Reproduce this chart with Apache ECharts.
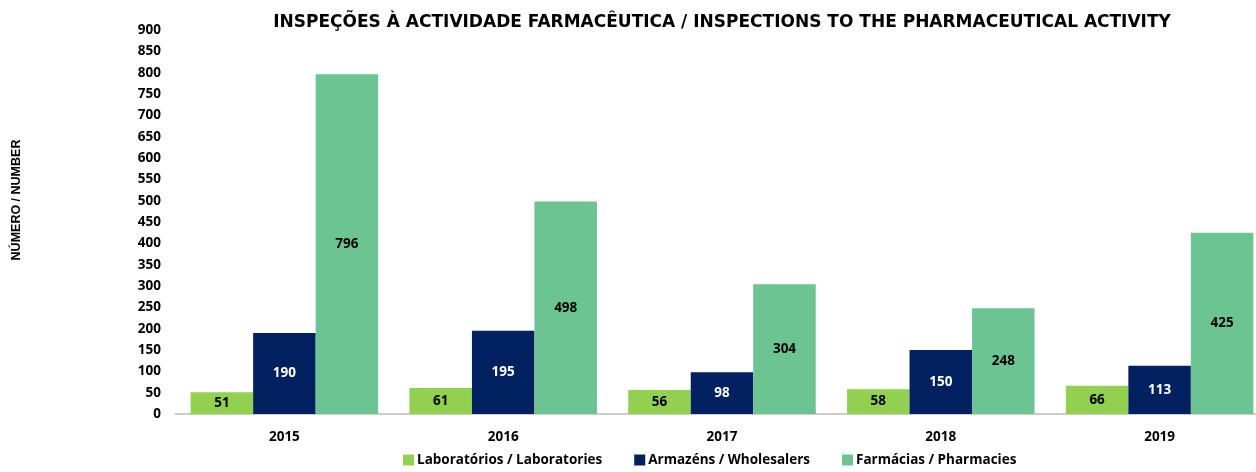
<!DOCTYPE html>
<html lang="pt">
<head>
    <meta charset="UTF-8">
    <title>Inspeções à actividade farmacêutica</title>
    <script src="https://cdn.jsdelivr.net/npm/echarts@6/dist/echarts.min.js"></script>
    <style>
        html, body { margin: 0; padding: 0; background: #fff; }
        #chart { width: 1256px; height: 472px; }
    </style>
</head>
<body>
    <div id="chart"></div>
    <script type="text/javascript">
        // dados
        var years = ['2015', '2016', '2017', '2018', '2019'];
        var laboratorios = [51, 61, 56, 58, 66];
        var armazens = [190, 195, 98, 150, 113];
        var farmacias = [796, 498, 304, 248, 425];

        var seriesNames = ['Laboratórios / Laboratories', 'Armazéns / Wholesalers', 'Farmácias / Pharmacies'];
        var seriesColors = ['#92D050', '#002060', '#6DC493'];
        var labelColors = ['#000', '#fff', '#000'];
        var seriesData = [laboratorios, armazens, farmacias];

        var font = 'Open Sans';

        var myChart = echarts.init(document.getElementById('chart'));

        var option = {
            animation: false,
            title: {
                text: 'INSPEÇÕES À ACTIVIDADE FARMACÊUTICA / INSPECTIONS TO THE PHARMACEUTICAL ACTIVITY',
                left: 717,
                textAlign: 'center',
                top: 9,
                textStyle: { fontFamily: 'DejaVu Sans', fontSize: 17, fontWeight: 'bold', color: '#000' }
            },
            legend: {
                bottom: 0,
                left: 398,
                itemWidth: 11,
                itemHeight: 11,
                itemGap: 32,
                icon: 'rect',
                textStyle: { fontFamily: font, fontSize: 13.5, fontWeight: 'bold', color: '#000', padding: [0, 0, 0, -2] },
                data: seriesNames
            },
            graphic: [{
                type: 'text',
                x: 17,
                y: 200,
                rotation: Math.PI / 2,
                style: {
                    text: 'NÚMERO / NUMBER',
                    font: 'bold 12.5px Liberation Sans',
                    fill: '#000',
                    align: 'center',
                    verticalAlign: 'middle'
                }
            }],
            // a última barra fica cortada na margem direita, como no original
            grid: { left: 175, width: 1094, top: 30, bottom: 58, outerBoundsMode: 'none' },
            xAxis: {
                type: 'category',
                data: years,
                axisLine: { lineStyle: { color: '#BFBFBF', width: 1.5 } },
                axisTick: { show: false },
                axisLabel: { fontFamily: font, fontSize: 13.5, fontWeight: 'bold', color: '#000', margin: 16 }
            },
            yAxis: {
                type: 'value',
                min: 0,
                max: 900,
                interval: 50,
                axisLine: { show: false },
                axisTick: { show: false },
                splitLine: { show: false },
                axisLabel: { fontFamily: font, fontSize: 13.5, fontWeight: 'bold', color: '#000', margin: 14 }
            },
            series: seriesData.map(function (d, i) {
                return {
                    name: seriesNames[i],
                    type: 'bar',
                    data: d,
                    barGap: '0%',
                    barCategoryGap: '14.3%',
                    itemStyle: { color: seriesColors[i] },
                    label: {
                        show: true,
                        position: 'inside',
                        fontFamily: font,
                        fontSize: 13.5,
                        fontWeight: 'bold',
                        color: labelColors[i]
                    }
                };
            })
        };
        myChart.setOption(option);
    </script>
</body>
</html>
